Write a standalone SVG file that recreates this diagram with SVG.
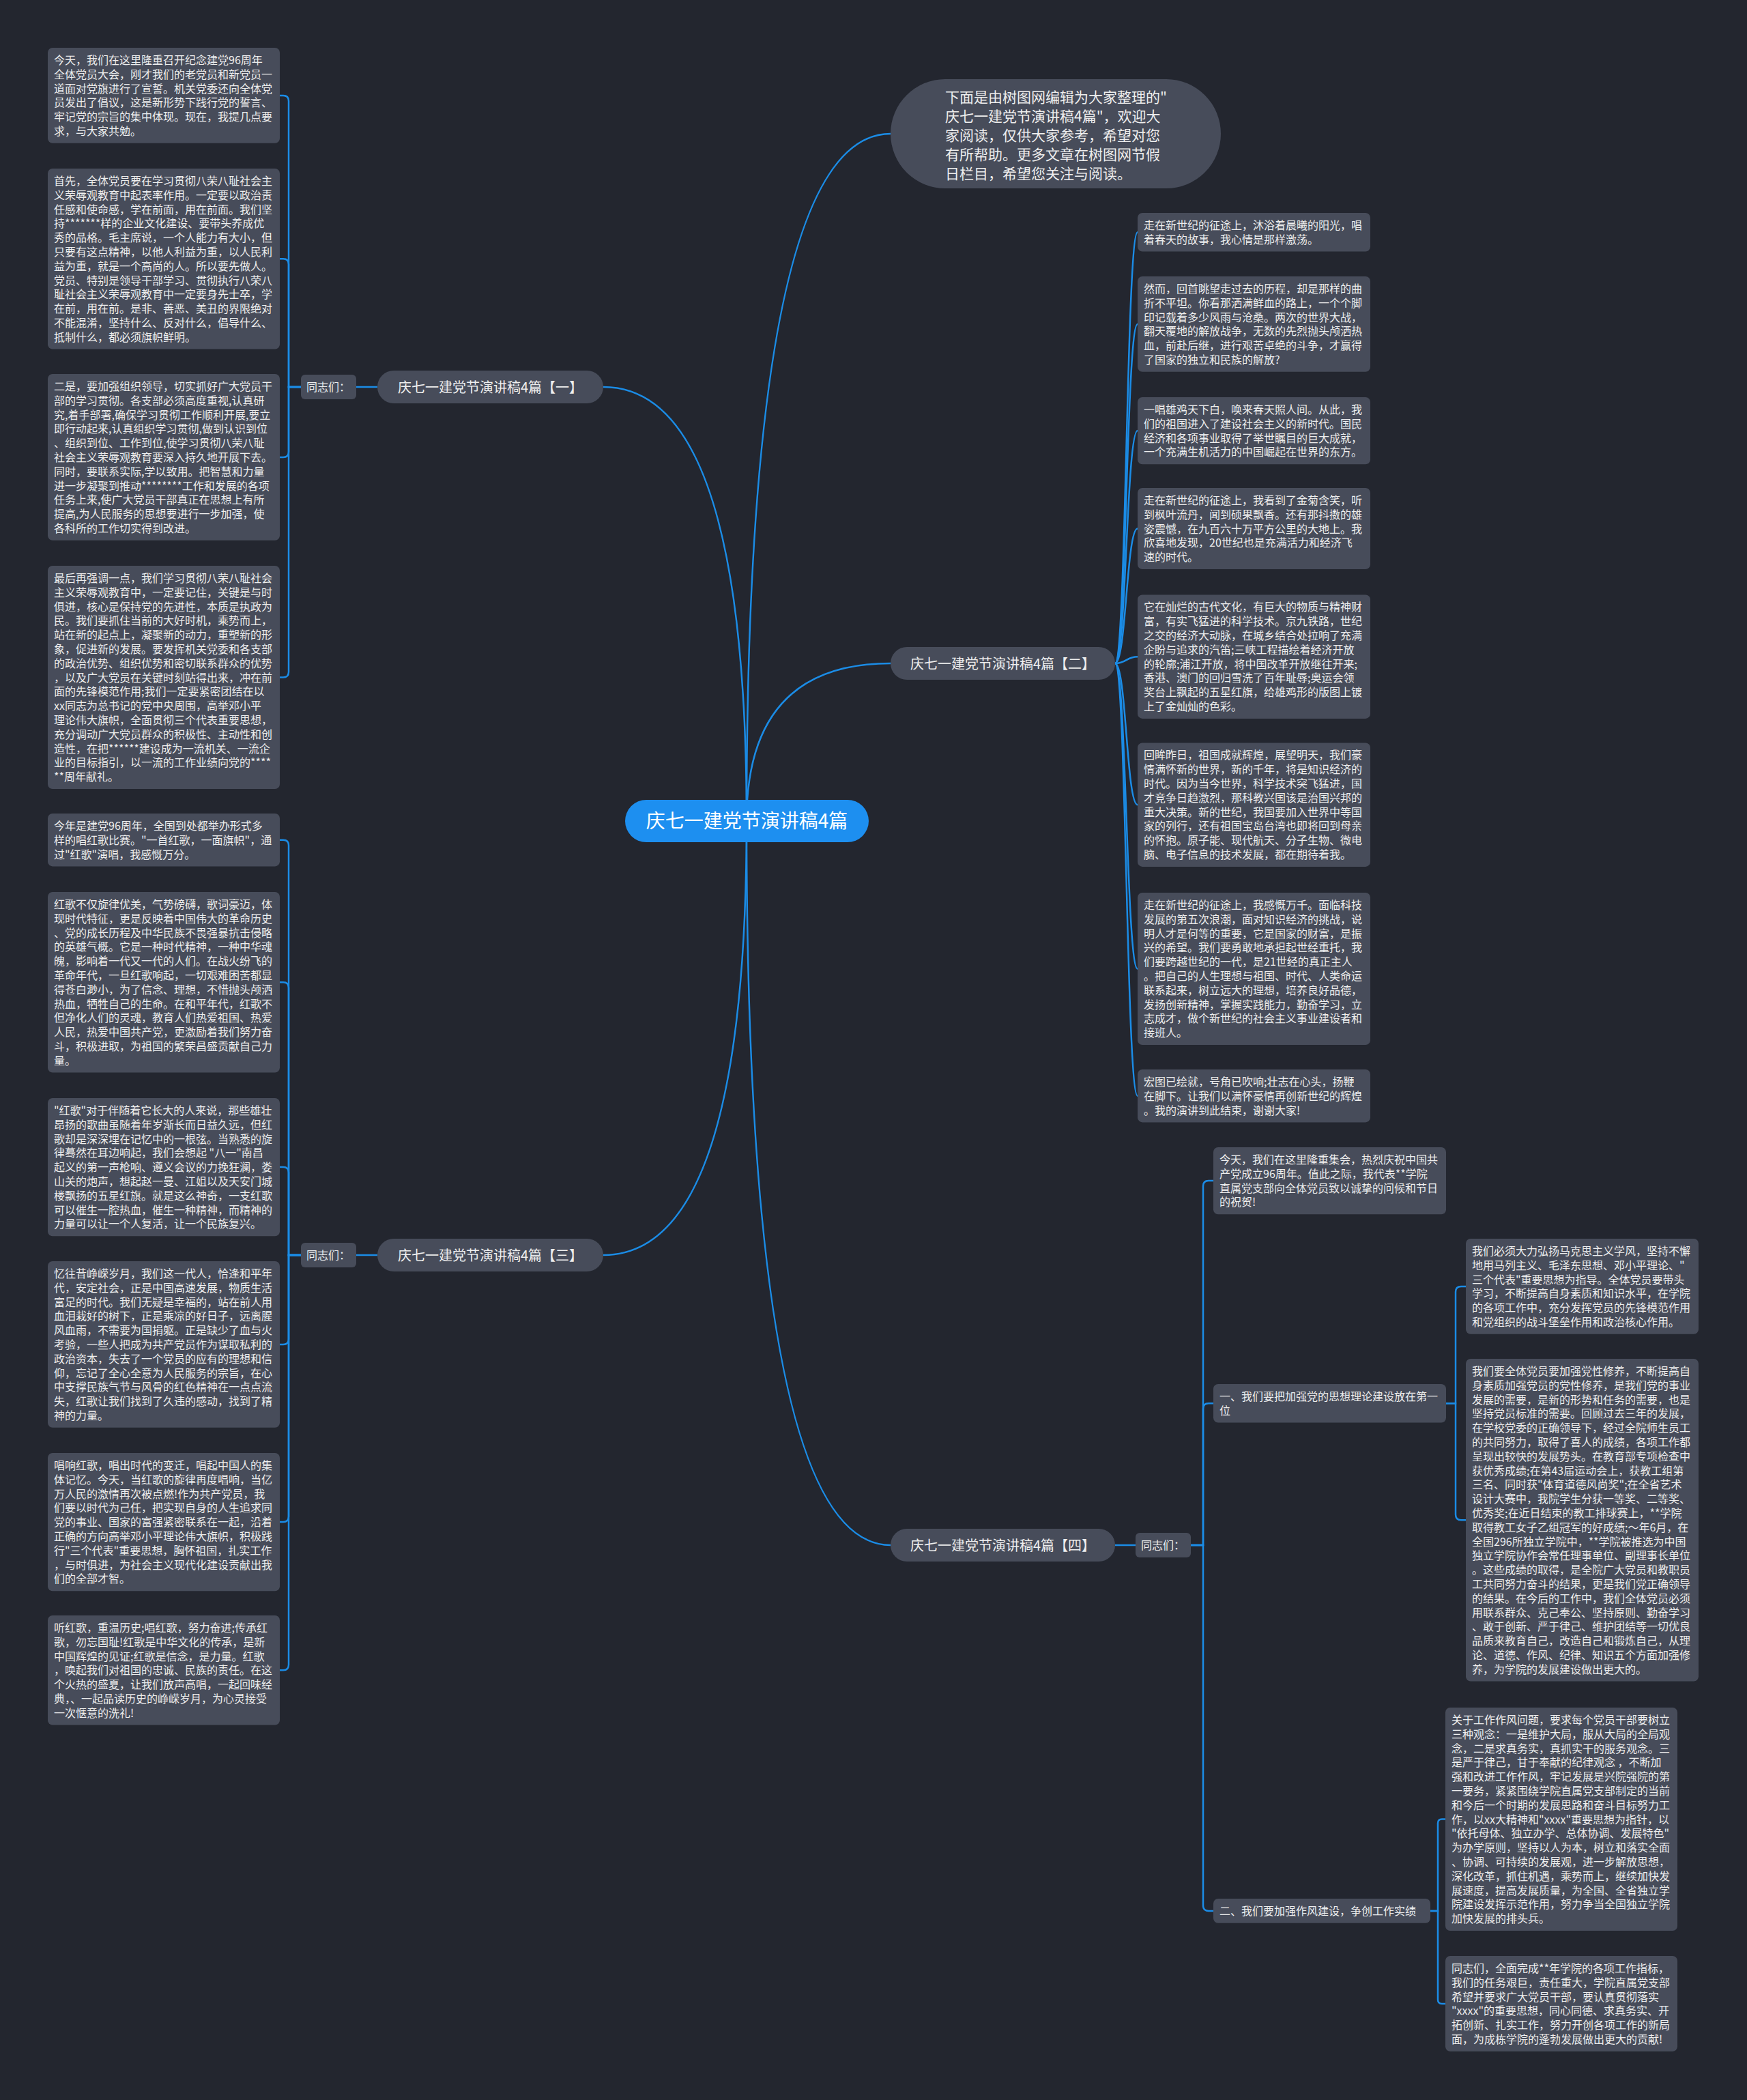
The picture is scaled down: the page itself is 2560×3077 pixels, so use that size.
<svg xmlns="http://www.w3.org/2000/svg" width="2560" height="3077" viewBox="0 0 2560 3077">
<style>
.bg{fill:#23262f}
.box{fill:#474c5a}
.t{font-family:"Noto Sans CJK SC","Noto Sans",sans-serif;font-size:16px;fill:#eeeeee}
.it{font-family:"Noto Sans CJK SC","Noto Sans",sans-serif;font-size:21px;fill:#eeeeee}
.bt{font-family:"Noto Sans CJK SC","Noto Sans",sans-serif;font-size:20px;fill:#eeeeee;text-anchor:middle}
.ct{font-family:"Noto Sans CJK SC","Noto Sans",sans-serif;font-size:28px;fill:#ffffff;text-anchor:middle}
.c{fill:none;stroke:#1b8ce6;stroke-width:2.5}
</style>
<rect class="bg" x="0" y="0" width="2560" height="3077"/>
<g id="connectors">
<path class="c" d="M1094 1203 Q1094 567 884 567"/>
<path class="c" d="M1094 1203 Q1094 196 1305 196"/>
<path class="c" d="M1094 1203 Q1094 972 1305 972"/>
<path class="c" d="M1094 1203 Q1094 1839 884 1839"/>
<path class="c" d="M1094 1203 Q1094 2264 1305 2264"/>
<path class="c" d="M553 567 H522"/>
<path class="c" d="M553 1839 H522"/>
<path class="c" d="M1634 2264 H1664"/>
<path class="c" d="M441 567 H423 V148 Q423 140 415 140 H410"/>
<path class="c" d="M441 567 H423 V387.3 Q423 379.3 415 379.3 H410"/>
<path class="c" d="M441 567 H423 V661.9 Q423 669.9 415 669.9 H410"/>
<path class="c" d="M441 567 H423 V984.5 Q423 992.5 415 992.5 H410"/>
<path class="c" d="M441 1839 H423 V1238.7 Q423 1230.7 415 1230.7 H410"/>
<path class="c" d="M441 1839 H423 V1447.3 Q423 1439.3 415 1439.3 H410"/>
<path class="c" d="M441 1839 H423 V1718.1 Q423 1710.1 415 1710.1 H410"/>
<path class="c" d="M441 1839 H423 V1961.9 Q423 1969.9 415 1969.9 H410"/>
<path class="c" d="M441 1839 H423 V2222.1 Q423 2230.1 415 2230.1 H410"/>
<path class="c" d="M441 1839 H423 V2439.3 Q423 2447.3 415 2447.3 H410"/>
<path class="c" d="M1634 972 C1650.5 972 1650.5 340.3 1667 340.3"/>
<path class="c" d="M1634 972 C1650.5 972 1650.5 474.9 1667 474.9"/>
<path class="c" d="M1634 972 C1650.5 972 1650.5 631.1 1667 631.1"/>
<path class="c" d="M1634 972 C1650.5 972 1650.5 774.5 1667 774.5"/>
<path class="c" d="M1634 972 C1650.5 972 1650.5 962.2 1667 962.2"/>
<path class="c" d="M1634 972 C1650.5 972 1650.5 1179.2 1667 1179.2"/>
<path class="c" d="M1634 972 C1650.5 972 1650.5 1419.5 1667 1419.5"/>
<path class="c" d="M1634 972 C1650.5 972 1650.5 1605.7 1667 1605.7"/>
<path class="c" d="M1745 2264 H1763 V1738.1 Q1763 1730.1 1771 1730.1 H1778"/>
<path class="c" d="M1745 2264 H1763 V2064.3 Q1763 2056.3 1771 2056.3 H1778"/>
<path class="c" d="M1745 2264 H1763 V2791.9 Q1763 2799.9 1771 2799.9 H1778"/>
<path class="c" d="M2119 2056.3 H2133 V1892.9 Q2133 1884.9 2141 1884.9 H2148"/>
<path class="c" d="M2119 2056.3 H2133 V2219.3 Q2133 2227.3 2141 2227.3 H2148"/>
<path class="c" d="M2096 2800 H2107 V2671.5 Q2107 2665.5 2113 2665.5 H2118"/>
<path class="c" d="M2096 2800 H2107 V2929.9 Q2107 2935.9 2113 2935.9 H2118"/>
</g>
<g id="center">
<rect x="916" y="1172" width="357" height="62" rx="31" fill="#1d8ff0"/>
<text class="ct" x="1094.5" y="1213">庆七一建党节演讲稿4篇</text>
</g>
<g id="intro">
<rect class="box" x="1305" y="116" width="484" height="160" rx="80"/>
<text class="it" x="1385" y="150"><tspan x="1385">下面是由树图网编辑为大家整理的"</tspan><tspan x="1385" dy="28">庆七一建党节演讲稿4篇"，欢迎大</tspan><tspan x="1385" dy="28">家阅读，仅供大家参考，希望对您</tspan><tspan x="1385" dy="28">有所帮助。更多文章在树图网节假</tspan><tspan x="1385" dy="28">日栏目，希望您关注与阅读。</tspan></text>
</g>
<g id="branch1">
<rect class="box" x="553" y="543" width="331" height="48" rx="24"/>
<text class="bt" x="718.5" y="574.5">庆七一建党节演讲稿4篇【一】</text>
</g>
<g id="branch2">
<rect class="box" x="1305" y="948" width="329" height="48" rx="24"/>
<text class="bt" x="1469.5" y="979.5">庆七一建党节演讲稿4篇【二】</text>
</g>
<g id="branch3">
<rect class="box" x="553" y="1815" width="331" height="48" rx="24"/>
<text class="bt" x="718.5" y="1846.5">庆七一建党节演讲稿4篇【三】</text>
</g>
<g id="branch4">
<rect class="box" x="1305" y="2240" width="329" height="48" rx="24"/>
<text class="bt" x="1469.5" y="2271.5">庆七一建党节演讲稿4篇【四】</text>
</g>
<g id="tz1">
<rect class="box" x="441" y="549" width="81" height="36" rx="6"/>
<text class="t" x="449" y="573">同志们：</text>
</g>
<g id="tz3">
<rect class="box" x="441" y="1821" width="81" height="36" rx="6"/>
<text class="t" x="449" y="1845">同志们：</text>
</g>
<g id="tz4">
<rect class="box" x="1664" y="2246" width="81" height="36" rx="6"/>
<text class="t" x="1672" y="2270">同志们：</text>
</g>
<g id="n1-1">
<rect class="box" x="70" y="70" width="340" height="139.8" rx="7"/>
<text class="t" x="79" y="93.9"><tspan x="79">今天，我们在这里隆重召开纪念建党96周年</tspan><tspan x="79" dy="20.8">全体党员大会，刚才我们的老党员和新党员一</tspan><tspan x="79" dy="20.8">道面对党旗进行了宣誓。机关党委还向全体党</tspan><tspan x="79" dy="20.8">员发出了倡议，这是新形势下践行党的誓言、</tspan><tspan x="79" dy="20.8">牢记党的宗旨的集中体现。现在，我提几点要</tspan><tspan x="79" dy="20.8">求，与大家共勉。</tspan></text>
</g>
<g id="n1-2">
<rect class="box" x="70" y="247" width="340" height="264.6" rx="7"/>
<text class="t" x="79" y="270.9"><tspan x="79">首先，全体党员要在学习贯彻八荣八耻社会主</tspan><tspan x="79" dy="20.8">义荣辱观教育中起表率作用。一定要以政治责</tspan><tspan x="79" dy="20.8">任感和使命感，学在前面，用在前面。我们坚</tspan><tspan x="79" dy="20.8">持*******样的企业文化建设、要带头养成优</tspan><tspan x="79" dy="20.8">秀的品格。毛主席说，一个人能力有大小，但</tspan><tspan x="79" dy="20.8">只要有这点精神，以他人利益为重，以人民利</tspan><tspan x="79" dy="20.8">益为重，就是一个高尚的人。所以要先做人。</tspan><tspan x="79" dy="20.8">党员、特别是领导干部学习、贯彻执行八荣八</tspan><tspan x="79" dy="20.8">耻社会主义荣辱观教育中一定要身先士卒，学</tspan><tspan x="79" dy="20.8">在前，用在前。是非、善恶、美丑的界限绝对</tspan><tspan x="79" dy="20.8">不能混淆，坚持什么、反对什么，倡导什么、</tspan><tspan x="79" dy="20.8">抵制什么，都必须旗帜鲜明。</tspan></text>
</g>
<g id="n1-3">
<rect class="box" x="70" y="548" width="340" height="243.8" rx="7"/>
<text class="t" x="79" y="571.9"><tspan x="79">二是，要加强组织领导，切实抓好广大党员干</tspan><tspan x="79" dy="20.8">部的学习贯彻。各支部必须高度重视,认真研</tspan><tspan x="79" dy="20.8">究,着手部署,确保学习贯彻工作顺利开展,要立</tspan><tspan x="79" dy="20.8">即行动起来,认真组织学习贯彻,做到认识到位</tspan><tspan x="79" dy="20.8">、组织到位、工作到位,使学习贯彻八荣八耻</tspan><tspan x="79" dy="20.8">社会主义荣辱观教育要深入持久地开展下去。</tspan><tspan x="79" dy="20.8">同时，要联系实际,学以致用。把智慧和力量</tspan><tspan x="79" dy="20.8">进一步凝聚到推动********工作和发展的各项</tspan><tspan x="79" dy="20.8">任务上来,使广大党员干部真正在思想上有所</tspan><tspan x="79" dy="20.8">提高,为人民服务的思想要进行一步加强，使</tspan><tspan x="79" dy="20.8">各科所的工作切实得到改进。</tspan></text>
</g>
<g id="n1-4">
<rect class="box" x="70" y="829" width="340" height="327" rx="7"/>
<text class="t" x="79" y="852.9"><tspan x="79">最后再强调一点，我们学习贯彻八荣八耻社会</tspan><tspan x="79" dy="20.8">主义荣辱观教育中，一定要记住，关键是与时</tspan><tspan x="79" dy="20.8">俱进，核心是保持党的先进性，本质是执政为</tspan><tspan x="79" dy="20.8">民。我们要抓住当前的大好时机，乘势而上，</tspan><tspan x="79" dy="20.8">站在新的起点上，凝聚新的动力，重塑新的形</tspan><tspan x="79" dy="20.8">象，促进新的发展。要发挥机关党委和各支部</tspan><tspan x="79" dy="20.8">的政治优势、组织优势和密切联系群众的优势</tspan><tspan x="79" dy="20.8">，以及广大党员在关键时刻站得出来，冲在前</tspan><tspan x="79" dy="20.8">面的先锋模范作用;我们一定要紧密团结在以</tspan><tspan x="79" dy="20.8">xx同志为总书记的党中央周围，高举邓小平</tspan><tspan x="79" dy="20.8">理论伟大旗帜，全面贯彻三个代表重要思想，</tspan><tspan x="79" dy="20.8">充分调动广大党员群众的积极性、主动性和创</tspan><tspan x="79" dy="20.8">造性，在把******建设成为一流机关、一流企</tspan><tspan x="79" dy="20.8">业的目标指引，以一流的工作业绩向党的****</tspan><tspan x="79" dy="20.8">**周年献礼。</tspan></text>
</g>
<g id="n3-1">
<rect class="box" x="70" y="1192" width="340" height="77.4" rx="7"/>
<text class="t" x="79" y="1215.9"><tspan x="79">今年是建党96周年，全国到处都举办形式多</tspan><tspan x="79" dy="20.8">样的唱红歌比赛。"一首红歌，一面旗帜"，通</tspan><tspan x="79" dy="20.8">过"红歌"演唱，我感慨万分。</tspan></text>
</g>
<g id="n3-2">
<rect class="box" x="70" y="1307" width="340" height="264.6" rx="7"/>
<text class="t" x="79" y="1330.9"><tspan x="79">红歌不仅旋律优美，气势磅礴，歌词豪迈，体</tspan><tspan x="79" dy="20.8">现时代特征，更是反映着中国伟大的革命历史</tspan><tspan x="79" dy="20.8">、党的成长历程及中华民族不畏强暴抗击侵略</tspan><tspan x="79" dy="20.8">的英雄气概。它是一种时代精神，一种中华魂</tspan><tspan x="79" dy="20.8">魄，影响着一代又一代的人们。在战火纷飞的</tspan><tspan x="79" dy="20.8">革命年代，一旦红歌响起，一切艰难困苦都显</tspan><tspan x="79" dy="20.8">得苍白渺小，为了信念、理想，不惜抛头颅洒</tspan><tspan x="79" dy="20.8">热血，牺牲自己的生命。在和平年代，红歌不</tspan><tspan x="79" dy="20.8">但净化人们的灵魂，教育人们热爱祖国、热爱</tspan><tspan x="79" dy="20.8">人民，热爱中国共产党，更激励着我们努力奋</tspan><tspan x="79" dy="20.8">斗，积极进取，为祖国的繁荣昌盛贡献自己力</tspan><tspan x="79" dy="20.8">量。</tspan></text>
</g>
<g id="n3-3">
<rect class="box" x="70" y="1609" width="340" height="202.2" rx="7"/>
<text class="t" x="79" y="1632.9"><tspan x="79">"红歌"对于伴随着它长大的人来说，那些雄壮</tspan><tspan x="79" dy="20.8">昂扬的歌曲虽随着年岁渐长而日益久远，但红</tspan><tspan x="79" dy="20.8">歌却是深深埋在记忆中的一根弦。当熟悉的旋</tspan><tspan x="79" dy="20.8">律蓦然在耳边响起，我们会想起 "八一"南昌</tspan><tspan x="79" dy="20.8">起义的第一声枪响、遵义会议的力挽狂澜，娄</tspan><tspan x="79" dy="20.8">山关的炮声，想起赵一曼、江姐以及天安门城</tspan><tspan x="79" dy="20.8">楼飘扬的五星红旗。就是这么神奇，一支红歌</tspan><tspan x="79" dy="20.8">可以催生一腔热血，催生一种精神，而精神的</tspan><tspan x="79" dy="20.8">力量可以让一个人复活，让一个民族复兴。</tspan></text>
</g>
<g id="n3-4">
<rect class="box" x="70" y="1848" width="340" height="243.8" rx="7"/>
<text class="t" x="79" y="1871.9"><tspan x="79">忆往昔峥嵘岁月，我们这一代人，恰逢和平年</tspan><tspan x="79" dy="20.8">代，安定社会，正是中国高速发展，物质生活</tspan><tspan x="79" dy="20.8">富足的时代。我们无疑是幸福的，站在前人用</tspan><tspan x="79" dy="20.8">血泪栽好的树下，正是乘凉的好日子，远离腥</tspan><tspan x="79" dy="20.8">风血雨，不需要为国捐躯。正是缺少了血与火</tspan><tspan x="79" dy="20.8">考验，一些人把成为共产党员作为谋取私利的</tspan><tspan x="79" dy="20.8">政治资本，失去了一个党员的应有的理想和信</tspan><tspan x="79" dy="20.8">仰，忘记了全心全意为人民服务的宗旨，在心</tspan><tspan x="79" dy="20.8">中支撑民族气节与风骨的红色精神在一点点流</tspan><tspan x="79" dy="20.8">失，红歌让我们找到了久违的感动，找到了精</tspan><tspan x="79" dy="20.8">神的力量。</tspan></text>
</g>
<g id="n3-5">
<rect class="box" x="70" y="2129" width="340" height="202.2" rx="7"/>
<text class="t" x="79" y="2152.9"><tspan x="79">唱响红歌，唱出时代的变迁，唱起中国人的集</tspan><tspan x="79" dy="20.8">体记忆。今天，当红歌的旋律再度唱响，当亿</tspan><tspan x="79" dy="20.8">万人民的激情再次被点燃!作为共产党员，我</tspan><tspan x="79" dy="20.8">们要以时代为己任，把实现自身的人生追求同</tspan><tspan x="79" dy="20.8">党的事业、国家的富强紧密联系在一起，沿着</tspan><tspan x="79" dy="20.8">正确的方向高举邓小平理论伟大旗帜，积极践</tspan><tspan x="79" dy="20.8">行"三个代表"重要思想，胸怀祖国，扎实工作</tspan><tspan x="79" dy="20.8">，与时俱进，为社会主义现代化建设贡献出我</tspan><tspan x="79" dy="20.8">们的全部才智。</tspan></text>
</g>
<g id="n3-6">
<rect class="box" x="70" y="2367" width="340" height="160.6" rx="7"/>
<text class="t" x="79" y="2390.9"><tspan x="79">听红歌，重温历史;唱红歌，努力奋进;传承红</tspan><tspan x="79" dy="20.8">歌，勿忘国耻!红歌是中华文化的传承，是新</tspan><tspan x="79" dy="20.8">中国辉煌的见证;红歌是信念，是力量。红歌</tspan><tspan x="79" dy="20.8">，唤起我们对祖国的忠诚、民族的责任。在这</tspan><tspan x="79" dy="20.8">个火热的盛夏，让我们放声高唱，一起回味经</tspan><tspan x="79" dy="20.8">典，、一起品读历史的峥嵘岁月，为心灵接受</tspan><tspan x="79" dy="20.8">一次惬意的洗礼!</tspan></text>
</g>
<g id="n2-1">
<rect class="box" x="1667" y="312" width="341" height="56.6" rx="7"/>
<text class="t" x="1676" y="335.9"><tspan x="1676">走在新世纪的征途上，沐浴着晨曦的阳光，唱</tspan><tspan x="1676" dy="20.8">着春天的故事，我心情是那样激荡。</tspan></text>
</g>
<g id="n2-2">
<rect class="box" x="1667" y="405" width="341" height="139.8" rx="7"/>
<text class="t" x="1676" y="428.9"><tspan x="1676">然而，回首眺望走过去的历程，却是那样的曲</tspan><tspan x="1676" dy="20.8">折不平坦。你看那洒满鲜血的路上，一个个脚</tspan><tspan x="1676" dy="20.8">印记载着多少风雨与沧桑。两次的世界大战，</tspan><tspan x="1676" dy="20.8">翻天覆地的解放战争，无数的先烈抛头颅洒热</tspan><tspan x="1676" dy="20.8">血，前赴后继，进行艰苦卓绝的斗争，才赢得</tspan><tspan x="1676" dy="20.8">了国家的独立和民族的解放?</tspan></text>
</g>
<g id="n2-3">
<rect class="box" x="1667" y="582" width="341" height="98.2" rx="7"/>
<text class="t" x="1676" y="605.9"><tspan x="1676">一唱雄鸡天下白，唤来春天照人间。从此，我</tspan><tspan x="1676" dy="20.8">们的祖国进入了建设社会主义的新时代。国民</tspan><tspan x="1676" dy="20.8">经济和各项事业取得了举世瞩目的巨大成就，</tspan><tspan x="1676" dy="20.8">一个充满生机活力的中国崛起在世界的东方。</tspan></text>
</g>
<g id="n2-4">
<rect class="box" x="1667" y="715" width="341" height="119" rx="7"/>
<text class="t" x="1676" y="738.9"><tspan x="1676">走在新世纪的征途上，我看到了金菊含笑，听</tspan><tspan x="1676" dy="20.8">到枫叶流丹，闻到硕果飘香。还有那抖擞的雄</tspan><tspan x="1676" dy="20.8">姿震憾，在九百六十万平方公里的大地上。我</tspan><tspan x="1676" dy="20.8">欣喜地发现，20世纪也是充满活力和经济飞</tspan><tspan x="1676" dy="20.8">速的时代。</tspan></text>
</g>
<g id="n2-5">
<rect class="box" x="1667" y="871.5" width="341" height="181.4" rx="7"/>
<text class="t" x="1676" y="895.4"><tspan x="1676">它在灿烂的古代文化，有巨大的物质与精神财</tspan><tspan x="1676" dy="20.8">富，有实飞猛进的科学技术。京九铁路，世纪</tspan><tspan x="1676" dy="20.8">之交的经济大动脉，在城乡结合处拉响了充满</tspan><tspan x="1676" dy="20.8">企盼与追求的汽笛;三峡工程描绘着经济开放</tspan><tspan x="1676" dy="20.8">的轮廓;浦江开放，将中国改革开放继往开来;</tspan><tspan x="1676" dy="20.8">香港、澳门的回归雪洗了百年耻辱;奥运会领</tspan><tspan x="1676" dy="20.8">奖台上飘起的五星红旗，给雄鸡形的版图上镀</tspan><tspan x="1676" dy="20.8">上了金灿灿的色彩。</tspan></text>
</g>
<g id="n2-6">
<rect class="box" x="1667" y="1088.5" width="341" height="181.4" rx="7"/>
<text class="t" x="1676" y="1112.4"><tspan x="1676">回眸昨日，祖国成就辉煌，展望明天，我们豪</tspan><tspan x="1676" dy="20.8">情满怀新的世界，新的千年，将是知识经济的</tspan><tspan x="1676" dy="20.8">时代。因为当今世界，科学技术突飞猛进，国</tspan><tspan x="1676" dy="20.8">才竞争日趋激烈，那科教兴国该是治国兴邦的</tspan><tspan x="1676" dy="20.8">重大决策。新的世纪，我国要加入世界中等国</tspan><tspan x="1676" dy="20.8">家的列行，还有祖国宝岛台湾也即将回到母亲</tspan><tspan x="1676" dy="20.8">的怀抱。原子能、现代航天、分子生物、微电</tspan><tspan x="1676" dy="20.8">脑、电子信息的技术发展，都在期待着我。</tspan></text>
</g>
<g id="n2-7">
<rect class="box" x="1667" y="1308" width="341" height="223" rx="7"/>
<text class="t" x="1676" y="1331.9"><tspan x="1676">走在新世纪的征途上，我感慨万千。面临科技</tspan><tspan x="1676" dy="20.8">发展的第五次浪潮，面对知识经济的挑战，说</tspan><tspan x="1676" dy="20.8">明人才是何等的重要，它是国家的财富，是振</tspan><tspan x="1676" dy="20.8">兴的希望。我们要勇敢地承担起世经重托，我</tspan><tspan x="1676" dy="20.8">们要跨越世纪的一代，是21世经的真正主人</tspan><tspan x="1676" dy="20.8">。把自己的人生理想与祖国、时代、人类命运</tspan><tspan x="1676" dy="20.8">联系起来，树立远大的理想，培养良好品德，</tspan><tspan x="1676" dy="20.8">发扬创新精神，掌握实践能力，勤奋学习，立</tspan><tspan x="1676" dy="20.8">志成才，做个新世纪的社会主义事业建设者和</tspan><tspan x="1676" dy="20.8">接班人。</tspan></text>
</g>
<g id="n2-8">
<rect class="box" x="1667" y="1567" width="341" height="77.4" rx="7"/>
<text class="t" x="1676" y="1590.9"><tspan x="1676">宏图已绘就，号角已吹响;壮志在心头，扬鞭</tspan><tspan x="1676" dy="20.8">在脚下。让我们以满怀豪情再创新世纪的辉煌</tspan><tspan x="1676" dy="20.8">。我的演讲到此结束，谢谢大家!</tspan></text>
</g>
<g id="n4-1">
<rect class="box" x="1778" y="1681" width="341" height="98.2" rx="7"/>
<text class="t" x="1787" y="1704.9"><tspan x="1787">今天，我们在这里隆重集会，热烈庆祝中国共</tspan><tspan x="1787" dy="20.8">产党成立96周年。值此之际，我代表**学院</tspan><tspan x="1787" dy="20.8">直属党支部向全体党员致以诚挚的问候和节日</tspan><tspan x="1787" dy="20.8">的祝贺!</tspan></text>
</g>
<g id="n4-2">
<rect class="box" x="1778" y="2028" width="341" height="56.6" rx="7"/>
<text class="t" x="1787" y="2051.9"><tspan x="1787">一、我们要把加强党的思想理论建设放在第一</tspan><tspan x="1787" dy="20.8">位</tspan></text>
</g>
<g id="n4-3">
<rect class="box" x="1778" y="2782" width="318" height="35.8" rx="7"/>
<text class="t" x="1787" y="2805.9">二、我们要加强作风建设，争创工作实绩</text>
</g>
<g id="n4-2-1">
<rect class="box" x="2148" y="1815" width="341" height="139.8" rx="7"/>
<text class="t" x="2157" y="1838.9"><tspan x="2157">我们必须大力弘扬马克思主义学风，坚持不懈</tspan><tspan x="2157" dy="20.8">地用马列主义、毛泽东思想、邓小平理论、"</tspan><tspan x="2157" dy="20.8">三个代表"重要思想为指导。全体党员要带头</tspan><tspan x="2157" dy="20.8">学习，不断提高自身素质和知识水平，在学院</tspan><tspan x="2157" dy="20.8">的各项工作中，充分发挥党员的先锋模范作用</tspan><tspan x="2157" dy="20.8">和党组织的战斗堡垒作用和政治核心作用。</tspan></text>
</g>
<g id="n4-2-2">
<rect class="box" x="2148" y="1991" width="341" height="472.6" rx="7"/>
<text class="t" x="2157" y="2014.9"><tspan x="2157">我们要全体党员要加强党性修养，不断提高自</tspan><tspan x="2157" dy="20.8">身素质加强党员的党性修养，是我们党的事业</tspan><tspan x="2157" dy="20.8">发展的需要，是新的形势和任务的需要，也是</tspan><tspan x="2157" dy="20.8">坚持党员标准的需要。回顾过去三年的发展，</tspan><tspan x="2157" dy="20.8">在学校党委的正确领导下，经过全院师生员工</tspan><tspan x="2157" dy="20.8">的共同努力，取得了喜人的成绩，各项工作都</tspan><tspan x="2157" dy="20.8">呈现出较快的发展势头。在教育部专项检查中</tspan><tspan x="2157" dy="20.8">获优秀成绩;在第43届运动会上，获教工组第</tspan><tspan x="2157" dy="20.8">三名、同时获"体育道德风尚奖";在全省艺术</tspan><tspan x="2157" dy="20.8">设计大赛中，我院学生分获一等奖、二等奖、</tspan><tspan x="2157" dy="20.8">优秀奖;在近日结束的教工排球赛上，**学院</tspan><tspan x="2157" dy="20.8">取得教工女子乙组冠军的好成绩;～年6月，在</tspan><tspan x="2157" dy="20.8">全国296所独立学院中，**学院被推选为中国</tspan><tspan x="2157" dy="20.8">独立学院协作会常任理事单位、副理事长单位</tspan><tspan x="2157" dy="20.8">。这些成绩的取得，是全院广大党员和教职员</tspan><tspan x="2157" dy="20.8">工共同努力奋斗的结果，更是我们党正确领导</tspan><tspan x="2157" dy="20.8">的结果。在今后的工作中，我们全体党员必须</tspan><tspan x="2157" dy="20.8">用联系群众、克己奉公、坚持原则、勤奋学习</tspan><tspan x="2157" dy="20.8">、敢于创新、严于律己、维护团结等一切优良</tspan><tspan x="2157" dy="20.8">品质来教育自己，改造自己和锻炼自己，从理</tspan><tspan x="2157" dy="20.8">论、道德、作风、纪律、知识五个方面加强修</tspan><tspan x="2157" dy="20.8">养，为学院的发展建设做出更大的。</tspan></text>
</g>
<g id="n4-3-1">
<rect class="box" x="2118" y="2502" width="340" height="327" rx="7"/>
<text class="t" x="2127" y="2525.9"><tspan x="2127">关于工作作风问题，要求每个党员干部要树立</tspan><tspan x="2127" dy="20.8">三种观念：一是维护大局，服从大局的全局观</tspan><tspan x="2127" dy="20.8">念，二是求真务实，真抓实干的服务观念。三</tspan><tspan x="2127" dy="20.8">是严于律己，甘于奉献的纪律观念 ，不断加</tspan><tspan x="2127" dy="20.8">强和改进工作作风，牢记发展是兴院强院的第</tspan><tspan x="2127" dy="20.8">一要务，紧紧围绕学院直属党支部制定的当前</tspan><tspan x="2127" dy="20.8">和今后一个时期的发展思路和奋斗目标努力工</tspan><tspan x="2127" dy="20.8">作，以xx大精神和"xxxx"重要思想为指针，以</tspan><tspan x="2127" dy="20.8">"依托母体、独立办学、总体协调、发展特色"</tspan><tspan x="2127" dy="20.8">为办学原则，坚持以人为本，树立和落实全面</tspan><tspan x="2127" dy="20.8">、协调、可持续的发展观，进一步解放思想，</tspan><tspan x="2127" dy="20.8">深化改革，抓住机遇，乘势而上，继续加快发</tspan><tspan x="2127" dy="20.8">展速度，提高发展质量，为全国、全省独立学</tspan><tspan x="2127" dy="20.8">院建设发挥示范作用，努力争当全国独立学院</tspan><tspan x="2127" dy="20.8">加快发展的排头兵。</tspan></text>
</g>
<g id="n4-3-2">
<rect class="box" x="2118" y="2866" width="340" height="139.8" rx="7"/>
<text class="t" x="2127" y="2889.9"><tspan x="2127">同志们，全面完成**年学院的各项工作指标，</tspan><tspan x="2127" dy="20.8">我们的任务艰巨，责任重大，学院直属党支部</tspan><tspan x="2127" dy="20.8">希望并要求广大党员干部，要认真贯彻落实</tspan><tspan x="2127" dy="20.8">"xxxx"的重要思想，同心同德、求真务实、开</tspan><tspan x="2127" dy="20.8">拓创新、扎实工作，努力开创各项工作的新局</tspan><tspan x="2127" dy="20.8">面，为成栋学院的蓬勃发展做出更大的贡献!</tspan></text>
</g>
</svg>
